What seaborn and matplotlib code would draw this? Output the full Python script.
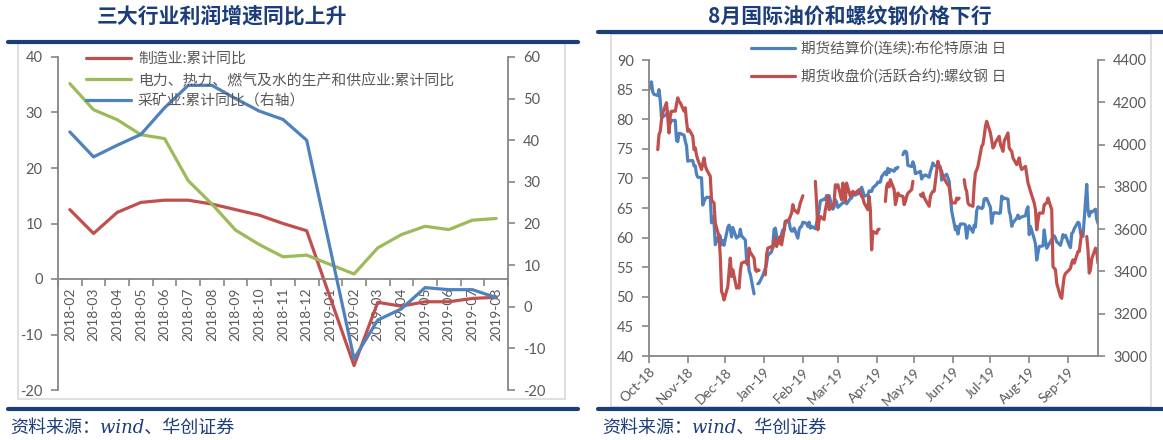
import numpy as np
import pandas as pd
import matplotlib
matplotlib.use('Agg')
import matplotlib.pyplot as plt
import matplotlib.dates as mdates
from matplotlib.lines import Line2D
from matplotlib.patches import Rectangle
import seaborn as sns

# ---------------- left panel: cumulative profit growth, % yoy ----------------
MONTHS = ['2018-02', '2018-03', '2018-04', '2018-05', '2018-06', '2018-07', '2018-08',
          '2018-09', '2018-10', '2018-11', '2018-12', '2019-01', '2019-02', '2019-03',
          '2019-04', '2019-05', '2019-06', '2019-07', '2019-08']
MFG = [12.5, 8.2, 12.0, 13.8, 14.2, 14.2, 13.5, 12.5, 11.5, 10.0, 8.7, None,
       -15.6, -4.2, -4.9, -4.1, -4.1, -3.5, -3.3]
UTIL = [35.2, 30.5, 28.7, 26.0, 25.3, 17.7, 13.5, 8.8, 6.2, 4.0, 4.3, None,
        0.9, 5.6, 8.0, 9.5, 8.9, 10.6, 10.9]
MINING = [42.0, 36.0, 38.8, 41.4, 47.8, 53.2, 53.2, 50.0, 47.0, 45.0, 40.0, None,
          -12.5, -3.2, -0.5, 4.6, 4.1, 4.1, 2.2]

LBL_MFG = '制造业:累计同比'
LBL_UTIL = '电力、热力、燃气及水的生产和供应业:累计同比'
LBL_MINING = '采矿业:累计同比（右轴）'

# ---------------- right panel: Brent (left axis) and rebar (right axis) ----------------
BRENT_DATES = [
    '2018-10-01', '2018-10-02', '2018-10-03', '2018-10-04', '2018-10-05', '2018-10-08', '2018-10-09',
    '2018-10-10', '2018-10-11', '2018-10-12', '2018-10-15', '2018-10-16', '2018-10-17', '2018-10-18',
    '2018-10-19', '2018-10-22', '2018-10-23', '2018-10-24', '2018-10-25', '2018-10-26', '2018-10-29',
    '2018-10-30', '2018-10-31', '2018-11-01', '2018-11-02', '2018-11-05', '2018-11-06', '2018-11-07',
    '2018-11-08', '2018-11-09', '2018-11-12', '2018-11-13', '2018-11-14', '2018-11-15', '2018-11-16',
    '2018-11-19', '2018-11-20', '2018-11-21', '2018-11-22', '2018-11-23', '2018-11-26', '2018-11-27',
    '2018-11-28', '2018-11-29', '2018-11-30', '2018-12-03', '2018-12-04', '2018-12-05', '2018-12-06',
    '2018-12-07', '2018-12-10', '2018-12-11', '2018-12-12', '2018-12-13', '2018-12-14', '2018-12-17',
    '2018-12-18', '2018-12-19', '2018-12-20', '2018-12-21', '2018-12-24', '2018-12-25', '2018-12-27',
    '2018-12-28', '2018-12-31', '2019-01-02', '2019-01-03', '2019-01-04', '2019-01-07', '2019-01-08',
    '2019-01-09', '2019-01-10', '2019-01-11', '2019-01-14', '2019-01-15', '2019-01-16', '2019-01-17',
    '2019-01-18', '2019-01-21', '2019-01-22', '2019-01-23', '2019-01-24', '2019-01-25', '2019-01-28',
    '2019-01-29', '2019-01-30', '2019-01-31', '2019-02-01', '2019-02-04', '2019-02-05', '2019-02-06',
    '2019-02-07', '2019-02-08', '2019-02-11', '2019-02-12', '2019-02-13', '2019-02-14', '2019-02-15',
    '2019-02-18', '2019-02-19', '2019-02-20', '2019-02-21', '2019-02-22', '2019-02-25', '2019-02-26',
    '2019-02-27', '2019-02-28', '2019-03-01', '2019-03-04', '2019-03-05', '2019-03-06', '2019-03-07',
    '2019-03-08', '2019-03-11', '2019-03-12', '2019-03-13', '2019-03-14', '2019-03-15', '2019-03-18',
    '2019-03-19', '2019-03-20', '2019-03-21', '2019-03-22', '2019-03-25', '2019-03-26', '2019-03-27',
    '2019-03-28', '2019-03-29', '2019-04-01', '2019-04-02', '2019-04-03', '2019-04-04', '2019-04-05',
    '2019-04-08', '2019-04-09', '2019-04-10', '2019-04-11', '2019-04-12', '2019-04-15', '2019-04-16',
    '2019-04-17', '2019-04-18', '2019-04-19', '2019-04-22', '2019-04-23', '2019-04-24', '2019-04-25',
    '2019-04-26', '2019-04-29', '2019-04-30', '2019-05-01', '2019-05-02', '2019-05-03', '2019-05-06',
    '2019-05-07', '2019-05-08', '2019-05-09', '2019-05-10', '2019-05-13', '2019-05-14', '2019-05-15',
    '2019-05-16', '2019-05-17', '2019-05-20', '2019-05-21', '2019-05-22', '2019-05-23', '2019-05-24',
    '2019-05-27', '2019-05-28', '2019-05-29', '2019-05-30', '2019-05-31', '2019-06-03', '2019-06-04',
    '2019-06-05', '2019-06-06', '2019-06-07', '2019-06-10', '2019-06-11', '2019-06-12', '2019-06-13',
    '2019-06-14', '2019-06-17', '2019-06-18', '2019-06-19', '2019-06-20', '2019-06-21', '2019-06-24',
    '2019-06-25', '2019-06-26', '2019-06-27', '2019-06-28', '2019-07-01', '2019-07-02', '2019-07-03',
    '2019-07-04', '2019-07-05', '2019-07-08', '2019-07-09', '2019-07-10', '2019-07-11', '2019-07-12',
    '2019-07-15', '2019-07-16', '2019-07-17', '2019-07-18', '2019-07-19', '2019-07-22', '2019-07-23',
    '2019-07-24', '2019-07-25', '2019-07-26', '2019-07-29', '2019-07-30', '2019-07-31', '2019-08-01',
    '2019-08-02', '2019-08-05', '2019-08-06', '2019-08-07', '2019-08-08', '2019-08-09', '2019-08-12',
    '2019-08-13', '2019-08-14', '2019-08-15', '2019-08-16', '2019-08-19', '2019-08-20', '2019-08-21',
    '2019-08-22', '2019-08-23', '2019-08-26', '2019-08-27', '2019-08-28', '2019-08-29', '2019-08-30',
    '2019-09-02', '2019-09-03', '2019-09-04', '2019-09-05', '2019-09-06', '2019-09-09', '2019-09-10',
    '2019-09-11', '2019-09-12', '2019-09-13', '2019-09-16', '2019-09-17', '2019-09-18', '2019-09-19',
    '2019-09-20', '2019-09-23', '2019-09-24', '2019-09-25']
BRENT = [
    85.0, 86.2, 86.3, 84.6, 84.2, 84.0, 85.0,
    83.1, 80.3, 80.4, 80.8, 81.4, 80.1, 79.3,
    79.8, 79.8, 76.4, 76.2, 77.6, 77.6, 77.3,
    76.3, 75.5, 72.9, 73.0, 73.0, 72.1, 72.1,
    70.7, 70.2, 70.1, 65.5, 66.1, 66.6, 66.8,
    66.8, 62.5, 63.5, 62.6, 58.8, 60.5, 60.2,
    58.8, 59.5, 58.7, 61.7, 62.1, 61.6, 60.1,
    61.7, 59.9, 60.2, 60.2, 61.4, 60.3, 59.6,
    56.3, 57.2, 54.4, 53.8, 50.5, None, 52.2,
    52.3, 53.6, 54.8, 55.6, 57.0, 57.6, 58.7,
    61.4, 61.6, 60.3, 59.0, 60.6, 61.3, 61.2,
    62.6, 62.7, 61.5, 61.1, 61.1, 61.6, 59.9,
    61.3, 61.8, 61.9, 62.6, 62.4, 61.9, 62.6,
    61.6, 61.9, 61.5, 62.4, 63.6, 64.6, 66.2,
    66.5, 66.4, 67.1, 67.0, 67.1, 64.8, 65.2,
    66.4, 66.0, 65.1, 65.7, 65.9, 65.9, 66.3,
    65.7, 66.6, 66.7, 67.6, 67.2, 67.2, 67.5,
    68.0, 68.5, 67.9, 67.0, 67.2, 67.9, 67.8,
    67.8, 68.4, 69.0, 69.4, 69.3, 69.4, 70.3,
    71.1, 70.6, 71.7, 71.0, 71.5, 71.2, 71.7,
    71.6, 71.9, None, 74.0, 74.5, 74.6, 74.4,
    72.2, 72.0, 72.8, 72.2, 70.8, 70.9, 71.2,
    69.9, 70.4, 70.4, 70.6, 70.2, 71.2, 71.8,
    72.6, 72.2, 72.0, 72.2, 71.9, 69.7, 70.2,
    70.7, 70.1, 69.5, 66.9, 64.5, 61.3, 61.9,
    60.6, 61.7, 62.3, 62.3, 62.1, 59.9, 61.3,
    62.0, 60.9, 62.1, 61.8, 64.5, 65.2, 64.9,
    65.1, 66.5, 66.6, 66.6, 65.1, 62.4, 63.8,
    64.2, 64.2, 64.1, 64.2, 67.0, 66.5, 66.7,
    66.5, 64.4, 63.7, 61.9, 62.5, 63.3, 63.8,
    63.2, 63.4, 63.5, 63.7, 64.7, 65.2, 60.5,
    61.9, 59.8, 58.9, 56.2, 57.4, 58.5, 58.6,
    61.3, 59.5, 58.2, 58.6, 59.7, 60.0, 60.3,
    59.9, 59.3, 58.7, 59.5, 60.5, 60.1, 60.4,
    58.7, 58.3, 60.7, 60.9, 61.5, 62.6, 62.4,
    60.8, 60.2, 60.2, 69.0, 64.6, 63.6, 64.4,
    64.3, 64.8, 63.1, 62.4]

REBAR_DATES = [
    '2018-10-08', '2018-10-09', '2018-10-10', '2018-10-11', '2018-10-12', '2018-10-15', '2018-10-16',
    '2018-10-17', '2018-10-18', '2018-10-19', '2018-10-22', '2018-10-23', '2018-10-24', '2018-10-25',
    '2018-10-26', '2018-10-29', '2018-10-30', '2018-10-31', '2018-11-01', '2018-11-02', '2018-11-05',
    '2018-11-06', '2018-11-07', '2018-11-08', '2018-11-09', '2018-11-12', '2018-11-13', '2018-11-14',
    '2018-11-15', '2018-11-16', '2018-11-19', '2018-11-20', '2018-11-21', '2018-11-22', '2018-11-23',
    '2018-11-26', '2018-11-27', '2018-11-28', '2018-11-29', '2018-11-30', '2018-12-03', '2018-12-04',
    '2018-12-05', '2018-12-06', '2018-12-07', '2018-12-10', '2018-12-11', '2018-12-12', '2018-12-13',
    '2018-12-14', '2018-12-17', '2018-12-18', '2018-12-19', '2018-12-20', '2018-12-21', '2018-12-24',
    '2018-12-25', '2018-12-26', '2018-12-27', '2018-12-28', '2018-12-31', '2019-01-02', '2019-01-03',
    '2019-01-04', '2019-01-07', '2019-01-08', '2019-01-09', '2019-01-10', '2019-01-11', '2019-01-14',
    '2019-01-15', '2019-01-16', '2019-01-17', '2019-01-18', '2019-01-21', '2019-01-22', '2019-01-23',
    '2019-01-24', '2019-01-25', '2019-01-28', '2019-01-29', '2019-01-30', '2019-01-31', '2019-02-01',
    '2019-02-04', '2019-02-11', '2019-02-12', '2019-02-13', '2019-02-14', '2019-02-15', '2019-02-18',
    '2019-02-19', '2019-02-20', '2019-02-21', '2019-02-22', '2019-02-25', '2019-02-26', '2019-02-27',
    '2019-02-28', '2019-03-01', '2019-03-04', '2019-03-05', '2019-03-06', '2019-03-07', '2019-03-08',
    '2019-03-11', '2019-03-12', '2019-03-13', '2019-03-14', '2019-03-15', '2019-03-18', '2019-03-19',
    '2019-03-20', '2019-03-21', '2019-03-22', '2019-03-25', '2019-03-26', '2019-03-27', '2019-03-28',
    '2019-03-29', '2019-04-01', '2019-04-02', '2019-04-03', '2019-04-04', '2019-04-08', '2019-04-09',
    '2019-04-10', '2019-04-11', '2019-04-12', '2019-04-15', '2019-04-16', '2019-04-17', '2019-04-18',
    '2019-04-19', '2019-04-22', '2019-04-23', '2019-04-24', '2019-04-25', '2019-04-26', '2019-04-29',
    '2019-04-30', '2019-05-01', '2019-05-06', '2019-05-07', '2019-05-08', '2019-05-09', '2019-05-10',
    '2019-05-13', '2019-05-14', '2019-05-15', '2019-05-16', '2019-05-17', '2019-05-20', '2019-05-21',
    '2019-05-22', '2019-05-23', '2019-05-24', '2019-05-27', '2019-05-28', '2019-05-29', '2019-05-30',
    '2019-05-31', '2019-06-03', '2019-06-04', '2019-06-05', '2019-06-06', '2019-06-07', '2019-06-10',
    '2019-06-11', '2019-06-12', '2019-06-13', '2019-06-14', '2019-06-17', '2019-06-18', '2019-06-19',
    '2019-06-20', '2019-06-21', '2019-06-24', '2019-06-25', '2019-06-26', '2019-06-27', '2019-06-28',
    '2019-07-01', '2019-07-02', '2019-07-03', '2019-07-04', '2019-07-05', '2019-07-08', '2019-07-09',
    '2019-07-10', '2019-07-11', '2019-07-12', '2019-07-15', '2019-07-16', '2019-07-17', '2019-07-18',
    '2019-07-19', '2019-07-22', '2019-07-23', '2019-07-24', '2019-07-25', '2019-07-26', '2019-07-29',
    '2019-07-30', '2019-07-31', '2019-08-01', '2019-08-02', '2019-08-05', '2019-08-06', '2019-08-07',
    '2019-08-08', '2019-08-09', '2019-08-12', '2019-08-13', '2019-08-14', '2019-08-15', '2019-08-16',
    '2019-08-19', '2019-08-20', '2019-08-21', '2019-08-22', '2019-08-23', '2019-08-26', '2019-08-27',
    '2019-08-28', '2019-08-29', '2019-08-30', '2019-09-02', '2019-09-03', '2019-09-04', '2019-09-05',
    '2019-09-06', '2019-09-09', '2019-09-10', '2019-09-11', '2019-09-12', '2019-09-13', '2019-09-16',
    '2019-09-17', '2019-09-18', '2019-09-19', '2019-09-20', '2019-09-23', '2019-09-24', '2019-09-25']
REBAR = [
    3976, 4047, 4063, 4118, 4150, 4198, 4127,
    4055, 4134, 4158, 4158, 4190, 4221, 4205,
    4198, 4158, 4174, 4110, 4063, 4071, 4040,
    3976, 3984, 3950, 3929, 3882, 3910, 3937,
    3900, 3882, 3850, 3739, 3730, 3724, 3629,
    3565, 3471, 3305, 3290, 3265, 3328, 3400,
    3463, 3376, 3408, 3321, 3330, 3321, 3400,
    3439, 3447, 3440, 3431, 3510, 3490, 3463,
    3408, 3400, 3408, 3405, None, 3384, 3479,
    3510, 3518, 3510, 3534, 3558, 3518, 3565,
    3526, 3560, 3597, 3637, 3645, 3660, 3676,
    3716, 3692, 3676, 3700, 3724, 3740, 3758,
    None, 3826, 3724, 3597, 3640, 3660, 3645,
    3692, 3720, 3755, 3692, 3710, 3724, 3810,
    3800, 3810, 3739, 3818, 3770, 3731, 3818,
    3755, 3770, 3779, 3765, 3771, 3787, 3770,
    3755, 3747, 3724, 3692, 3755, 3692, 3502,
    3589, 3580, 3597, 3600, None, 3731, 3802,
    3818, 3800, 3834, 3787, 3716, 3740, 3771,
    3760, 3755, 3716, 3730, 3755, 3770, 3787,
    3826, None, 3763, 3755, 3771, 3750, 3739,
    3708, 3755, 3770, 3779, 3779, 3921, 3897,
    3885, 3873, 3850, 3818, 3810, 3802, 3760,
    3724, 3724, 3747, 3740, 3747, None, 3834,
    3795, 3779, 3724, 3715, 3708, 3810, 3866,
    3880, 3897, 3992, 4000, 4040, 4087, 4110,
    4055, 4020, 3984, 3992, 4010, 4039, 4000,
    3985, 3968, 4016, 4055, 3984, 3975, 3968,
    3937, 3905, 3920, 3937, 3900, 3882, 3897,
    3860, 3818, 3800, 3779, 3724, 3692, 3597,
    3640, 3676, 3676, 3716, 3720, 3724, 3747,
    3692, 3423, 3415, 3408, 3344, 3281, 3273,
    3330, 3376, 3390, 3408, 3415, 3440, 3455,
    3439, 3494, 3494, 3540, 3589, None, 3565,
    3502, 3392, 3408, 3460, 3510, 3494, 3439]

LBL_BRENT = '期货结算价(连续):布伦特原油 日'
LBL_REBAR = '期货收盘价(活跃合约):螺纹钢 日'

TITLE_L = '三大行业利润增速同比上升'
TITLE_R = '8月国际油价和螺纹钢价格下行'
SOURCE = '资料来源：wind、华创证券'

RED = '#C0504D'
GREEN = '#9BBB59'
BLUE = '#4F81BD'
NAVY = '#1B3D7A'
GRAY = '#868686'
TXT = '#595959'
LW = 2.3

sns.set_theme(style='white')
plt.rcParams['font.family'] = ['Lato', 'Noto Sans CJK SC', 'DejaVu Sans']
plt.rcParams['axes.unicode_minus'] = False


def segments(dates, vals):
    # blank cells break the line, like the source workbook
    df = pd.DataFrame({'date': pd.to_datetime(dates), 'val': pd.Series(vals, dtype='float')})
    df['seg'] = df['val'].isna().cumsum()
    return df.dropna()


def style_spine(ax, side):
    ax.spines[side].set_visible(True)
    ax.spines[side].set_color(GRAY)
    ax.spines[side].set_linewidth(1.3)


W, H = 1163, 440
fig = plt.figure(figsize=(W / 100, H / 100), dpi=100)


def fx(px):
    return px / W


def fy(py):
    return 1 - py / H


# ---------------- decorations: frames, rules, titles, sources ----------------
fig.patches.append(Rectangle((fx(18), fy(399)), fx(565 - 18), (399 - 42) / H,
                             transform=fig.transFigure, fill=False, ec='#D9D9D9', lw=1.2))
fig.patches.append(Rectangle((fx(611), fy(407)), fx(1151 - 611), (407 - 34) / H,
                             transform=fig.transFigure, fill=False, ec='#D9D9D9', lw=1.2))
for x0, x1, y in [(8, 578, 42), (598, 1163, 32), (8, 578, 409), (598, 1163, 409)]:
    fig.add_artist(Line2D([fx(x0), fx(x1)], [fy(y), fy(y)], transform=fig.transFigure,
                          color=NAVY, lw=3))

fig.text(fx(222), fy(16), TITLE_L, ha='center', va='center', fontsize=15,
         fontweight='bold', color=NAVY, family=['Noto Sans CJK SC'])
fig.text(fx(850), fy(16), TITLE_R, ha='center', va='center', fontsize=15,
         fontweight='bold', color=NAVY, family=['Noto Sans CJK SC', 'DejaVu Sans'])
for x in (10, 602):
    fig.text(fx(x), fy(428), SOURCE, ha='left', va='center', fontsize=13,
             color=NAVY, style='italic', family=['DejaVu Serif', 'Noto Sans CJK SC'])

# ---------------- left panel ----------------
left = pd.DataFrame({'pos': np.arange(len(MONTHS)), 'month': MONTHS,
                     'mfg': pd.Series(MFG, dtype='float'),
                     'util': pd.Series(UTIL, dtype='float'),
                     'mining': pd.Series(MINING, dtype='float')})

ax1 = fig.add_axes([fx(58), fy(390), fx(508 - 58), (390 - 57) / H])
ax1b = ax1.twinx()
ax1.patch.set_alpha(0)

sns.lineplot(data=left, x='pos', y='mfg', color=RED, lw=LW, ax=ax1, label=LBL_MFG)
sns.lineplot(data=left, x='pos', y='util', color=GREEN, lw=LW, ax=ax1, label=LBL_UTIL)
sns.lineplot(data=left, x='pos', y='mining', color=BLUE, lw=LW, ax=ax1b, label=LBL_MINING)

ax1.set_xlim(-0.5, len(MONTHS) - 0.5)
ax1.set_ylim(-20, 40)
ax1b.set_ylim(-20, 60)
ax1.set_yticks(np.arange(-20, 41, 10))
ax1b.set_yticks(np.arange(-20, 61, 10))
ax1.set_xlabel('')
ax1.set_ylabel('')
ax1b.set_ylabel('')

for s in ax1.spines.values():
    s.set_visible(False)
for s in ax1b.spines.values():
    s.set_visible(False)
style_spine(ax1, 'left')
style_spine(ax1, 'bottom')
style_spine(ax1b, 'right')
ax1.spines['bottom'].set_position(('data', 0))

ax1.set_xticks(left['pos'])
ax1.set_xticklabels(MONTHS, rotation=90)
ax1.set_xticks(np.arange(-0.5, len(MONTHS), 1), minor=True)
ax1.tick_params(axis='x', which='major', length=0, pad=6, labelsize=10, labelcolor=TXT)
ax1.tick_params(axis='x', which='minor', length=5, width=1.2, color=GRAY, direction='out',
                bottom=True)
ax1.tick_params(axis='y', length=5, width=1.2, color=GRAY, direction='out', left=True,
                labelsize=10.5, labelcolor=TXT, pad=6)
ax1b.tick_params(axis='y', length=5, width=1.2, color=GRAY, direction='out', right=True,
                 labelsize=10.5, labelcolor=TXT, pad=6)
ax1.grid(False)
ax1b.grid(False)

h1, l1 = ax1.get_legend_handles_labels()
h2, l2 = ax1b.get_legend_handles_labels()
ax1.get_legend().remove()
ax1b.get_legend().remove()
ax1b.legend(h1 + h2, l1 + l2, loc='upper left', bbox_to_anchor=(fx(86), fy(52)),
            bbox_transform=fig.transFigure, frameon=False, fontsize=10.7,
            handlelength=3.0, handletextpad=0.5, labelspacing=0.45,
            borderaxespad=0, borderpad=0, labelcolor=TXT)

# ---------------- right panel ----------------
brent = segments(BRENT_DATES, BRENT)
rebar = segments(REBAR_DATES, REBAR)

ax2 = fig.add_axes([fx(649), fy(356), fx(1098 - 649), (356 - 60) / H])
ax2b = ax2.twinx()
ax2.patch.set_alpha(0)

sns.lineplot(data=brent, x='date', y='val', units='seg', estimator=None,
             color=BLUE, lw=LW, ax=ax2)
sns.lineplot(data=rebar, x='date', y='val', units='seg', estimator=None,
             color=RED, lw=LW, ax=ax2b)

ax2.set_xlim(pd.Timestamp('2018-10-01'), pd.Timestamp('2019-09-25'))
ax2.set_ylim(40, 90)
ax2b.set_ylim(3000, 4400)
ax2.set_yticks(np.arange(40, 91, 5))
ax2b.set_yticks(np.arange(3000, 4401, 200))
ax2.set_xlabel('')
ax2.set_ylabel('')
ax2b.set_ylabel('')

for s in ax2.spines.values():
    s.set_visible(False)
for s in ax2b.spines.values():
    s.set_visible(False)
style_spine(ax2, 'left')
style_spine(ax2, 'bottom')
style_spine(ax2b, 'right')

ax2.xaxis.set_major_locator(mdates.MonthLocator())
ax2.xaxis.set_major_formatter(mdates.DateFormatter('%b-%y'))
for lab in ax2.get_xticklabels():
    lab.set_rotation(45)
    lab.set_ha('right')
    lab.set_va('top')
    lab.set_rotation_mode('anchor')
ax2.tick_params(axis='x', length=5, width=1.2, color=GRAY, direction='out', bottom=True,
                labelsize=9.8, labelcolor=TXT, pad=2)
ax2.tick_params(axis='y', length=5, width=1.2, color=GRAY, direction='out', left=True,
                labelsize=10.5, labelcolor=TXT, pad=6)
ax2b.tick_params(axis='y', length=5, width=1.2, color=GRAY, direction='out', right=True,
                 labelsize=10.5, labelcolor=TXT, pad=6)
ax2.grid(False)
ax2b.grid(False)

handles = [Line2D([], [], color=BLUE, lw=LW), Line2D([], [], color=RED, lw=LW)]
ax2b.legend(handles, [LBL_BRENT, LBL_REBAR], loc='upper left',
            bbox_to_anchor=(fx(751), fy(41)), bbox_transform=fig.transFigure,
            frameon=False, fontsize=10.5, handlelength=3.0, handletextpad=0.4,
            labelspacing=0.95, borderaxespad=0, borderpad=0, labelcolor=TXT)

fig.savefig('out.png', dpi=100)
